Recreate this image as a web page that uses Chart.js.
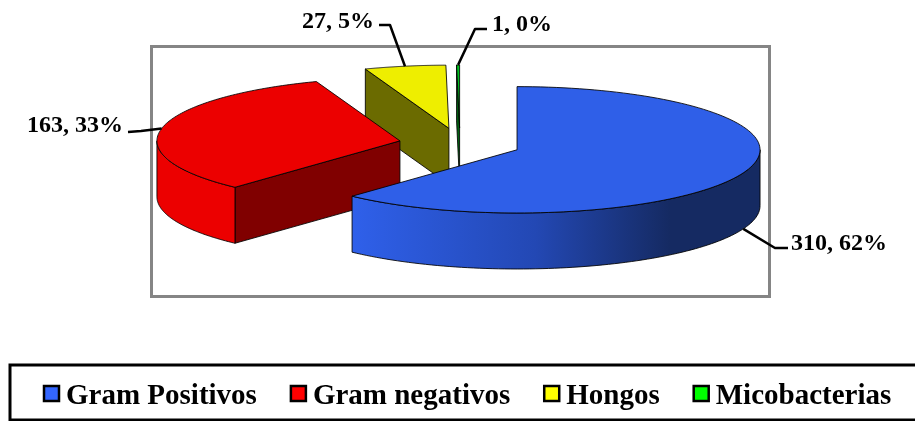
<!DOCTYPE html>
<html>
<head>
<meta charset="utf-8">
<style>
  html, body { margin: 0; padding: 0; background: #fff; }
  #wrap { width: 915px; height: 421px; overflow: hidden; }
</style>
<script src="https://cdn.jsdelivr.net/npm/chart.js@4"></script>
</head>
<body>
<div id="wrap"><canvas id="pie" width="915" height="421"></canvas></div>
<script>
// Infectious agents isolated, by group
const categories = ['Gram Positivos', 'Gram negativos', 'Hongos', 'Micobacterias'];
const counts = [310, 163, 27, 1];
const percents = [62, 33, 5, 0];

const topColors = ['#2f5fe8', '#ec0000', '#eeee00', '#00c020'];
const swatchColors = ['#3366ff', '#ff0000', '#ffff00', '#00ff00'];
const wallStops = [['#2f60ea', '#2348b4', '#152a62', '#152a62'], ['#ec0000'], ['#6b6b00'], ['#006010']];
const cutColors = ['#152a62', '#800000', '#6b6b00', '#006010'];

// Perspective of the tilted pie and the distance every slice is pulled out
const TILT = 0.26, DEPTH = 56, CENTER_X = 460, CENTER_Y = 144, EXPLODE = 61.25;

const SERIF = '"Liberation Serif", "Times New Roman", serif';

// Elbow, end and text anchor of every leader line
const leaders = [
  { wall: true,  elbow: [775, 248], end: [788, 248], text: [791, 250], align: 'left' },
  { wall: false, elbow: [141, 131], end: [128, 132], text: [123, 132], align: 'right' },
  { wall: false, elbow: [390, 25],  end: [379, 25],  text: [374, 28],  align: 'right' },
  { wall: false, elbow: [475, 29],  end: [487, 29],  text: [492, 31],  align: 'left' }
];

// Position of an arc point on the page, z being the drop below the top face
function project(arc, angle, radius, z) {
  const mid = (arc.startAngle + arc.endAngle) / 2;
  const x = Math.cos(mid) * EXPLODE + radius * Math.cos(angle);
  const y = Math.sin(mid) * EXPLODE + radius * Math.sin(angle);
  return [CENTER_X + x, CENTER_Y + y * TILT + z];
}

function wallFill(ctx, i, left, right) {
  const stops = wallStops[i];
  if (stops.length === 1) return stops[0];
  const g = ctx.createLinearGradient(left, 0, right, 0);
  g.addColorStop(0, stops[0]);
  g.addColorStop(0.45, stops[1]);
  g.addColorStop(0.78, stops[2]);
  g.addColorStop(1, stops[3]);
  return g;
}

function polygon(ctx, pts, fill) {
  ctx.beginPath();
  pts.forEach((p, k) => k ? ctx.lineTo(p[0], p[1]) : ctx.moveTo(p[0], p[1]));
  ctx.closePath();
  ctx.fillStyle = fill;
  ctx.fill();
  ctx.stroke();
}

function drawSolid(chart, arc, i) {
  const ctx = chart.ctx;
  const s = arc.startAngle, e = arc.endAngle, R = arc.outerRadius;
  ctx.save();
  ctx.lineWidth = 1;
  ctx.lineJoin = 'round';
  ctx.strokeStyle = 'rgba(0,0,0,0.85)';

  // Flat cut faces turned towards the viewer
  const apex = project(arc, s, 0, 0), apexLow = project(arc, s, 0, DEPTH);
  if (-Math.cos(s) > 0) {
    polygon(ctx, [apex, project(arc, s, R, 0), project(arc, s, R, DEPTH), apexLow], cutColors[i]);
  }
  if (Math.cos(e) > 0) {
    polygon(ctx, [apex, project(arc, e, R, 0), project(arc, e, R, DEPTH), apexLow], cutColors[i]);
  }

  // Curved outer wall, only on the front half of the rim
  const lo = Math.max(s, 0), hi = Math.min(e, Math.PI);
  if (hi > lo) {
    const pts = [];
    const steps = 90;
    for (let k = 0; k <= steps; k++) pts.push(project(arc, lo + (hi - lo) * k / steps, R, 0));
    for (let k = steps; k >= 0; k--) pts.push(project(arc, lo + (hi - lo) * k / steps, R, DEPTH));
    const xs = pts.map(p => p[0]);
    polygon(ctx, pts, wallFill(ctx, i, Math.min(...xs), Math.max(...xs)));
  }

  // Top face: the library's own arc under a squashed transform
  ctx.save();
  ctx.translate(apex[0], apex[1]);
  ctx.scale(1, TILT);
  ctx.translate(-arc.x, -arc.y);
  arc.draw(ctx, chart.chartArea);
  ctx.restore();

  // Even-width outline of the top face
  const pts = [apex];
  for (let k = 0; k <= 120; k++) pts.push(project(arc, s + (e - s) * k / 120, R, 0));
  ctx.beginPath();
  pts.forEach((p, k) => k ? ctx.lineTo(p[0], p[1]) : ctx.moveTo(p[0], p[1]));
  ctx.closePath();
  ctx.stroke();
  ctx.restore();
}

const solidPie = {
  id: 'solidPie',
  beforeDatasetDraw: () => false,
  beforeDatasetsDraw(chart) {
    const ctx = chart.ctx;
    // Plot frame
    ctx.save();
    ctx.strokeStyle = '#858585';
    ctx.lineWidth = 3;
    ctx.strokeRect(151.5, 46.5, 618, 250);
    ctx.restore();
  },
  afterDatasetsDraw(chart) {
    const arcs = chart.getDatasetMeta(0).data;
    const mid = a => (a.startAngle + a.endAngle) / 2;
    // Slices further back are painted first
    const order = arcs.map((a, i) => i).sort((p, q) =>
      Math.sin(mid(arcs[p])) - Math.sin(mid(arcs[q])));
    order.forEach(i => drawSolid(chart, arcs[i], i));
    drawLeaders(chart, arcs);
    drawLegend(chart);
  }
};

function drawLeaders(chart, arcs) {
  const ctx = chart.ctx;
  ctx.save();
  arcs.forEach((arc, i) => {
    const l = leaders[i];
    const a = (arc.startAngle + arc.endAngle) / 2;
    const from = project(arc, a, arc.outerRadius, l.wall ? DEPTH : 0);
    ctx.beginPath();
    ctx.moveTo(from[0], from[1]);
    ctx.lineTo(l.elbow[0], l.elbow[1]);
    ctx.lineTo(l.end[0], l.end[1]);
    ctx.strokeStyle = '#000';
    ctx.lineWidth = 2.5;
    ctx.lineJoin = 'round';
    ctx.stroke();
    ctx.font = 'bold 24px ' + SERIF;
    ctx.fillStyle = '#000';
    ctx.textAlign = l.align;
    ctx.textBaseline = 'alphabetic';
    ctx.fillText(counts[i] + ', ' + percents[i] + '%', l.text[0], l.text[1]);
  });
  ctx.restore();
}

function drawLegend(chart) {
  const ctx = chart.ctx;
  ctx.save();
  ctx.strokeStyle = '#000';
  ctx.lineWidth = 3;
  ctx.strokeRect(10, 365, 930, 55);
  ctx.font = 'bold 29px ' + SERIF;
  ctx.textBaseline = 'alphabetic';
  let x = 44;
  chart.data.labels.forEach((label, i) => {
    ctx.fillStyle = swatchColors[i];
    ctx.strokeStyle = '#000';
    ctx.lineWidth = 2.5;
    ctx.fillRect(x, 386, 15, 15);
    ctx.strokeRect(x, 386, 15, 15);
    ctx.fillStyle = '#000';
    ctx.textAlign = 'left';
    ctx.fillText(label, x + 22, 404);
    x += 22 + ctx.measureText(label).width + 34;
  });
  ctx.restore();
}

new Chart(document.getElementById('pie'), {
  type: 'pie',
  data: {
    labels: categories,
    datasets: [{
      data: counts,
      backgroundColor: topColors,
      borderWidth: 0,
      radius: 243
    }]
  },
  options: {
    responsive: false,
    animation: false,
    plugins: { legend: { display: false }, tooltip: { enabled: false } }
  },
  plugins: [solidPie]
});
</script>
</body>
</html>
